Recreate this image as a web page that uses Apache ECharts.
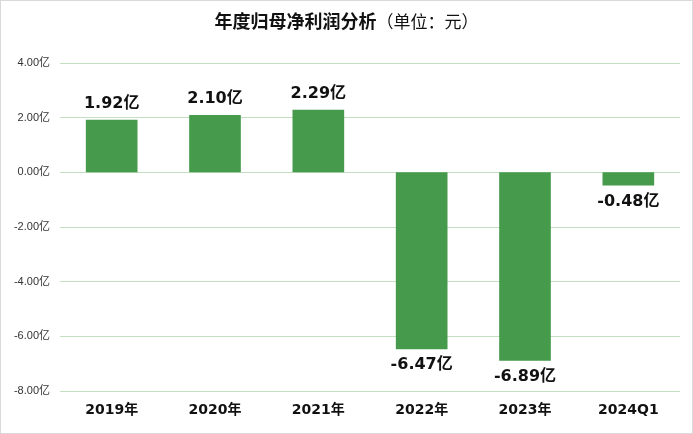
<!DOCTYPE html>
<html>
<head>
<meta charset="utf-8">
<script src="https://cdn.jsdelivr.net/npm/echarts@6/dist/echarts.min.js"></script>
<style>
  html, body { margin: 0; padding: 0; background: #fff; }
  #main { width: 691px; height: 432px; border: 1px solid #d9d9d9; }
</style>
</head>
<body>
<div id="main"></div>
<script>
// 数据
var years = ['2019年', '2020年', '2021年', '2022年', '2023年', '2024Q1'];
var profits = [1.92, 2.10, 2.29, -6.47, -6.89, -0.48]; // 单位：亿元
var yTicks = [-8, -6, -4, -2, 0, 2, 4];

var myChart = echarts.init(document.getElementById('main'));
var fontCn = '"Liberation Sans", "Noto Sans CJK SC", sans-serif';
var fontBold = '"DejaVu Sans", "Noto Sans CJK SC", sans-serif';

option = {
	textStyle: { fontFamily: fontCn },
	title: {
		text: '{b|年度归母净利润分析}{n|（单位：元）}',
		left: 'center',
		top: 8,
		textStyle: {
			rich: {
				b: { fontSize: 18, fontWeight: 'bold', color: '#111', fontFamily: fontCn },
				n: { fontSize: 17, fontWeight: 'normal', color: '#111', fontFamily: fontCn }
			}
		}
	},
	grid: { left: 59, right: 12, top: 62, bottom: 42 },
	xAxis: {
		type: 'category',
		data: years,
		axisLine: { show: false, onZero: false },
		axisTick: { show: false },
		axisLabel: { color: '#111', fontSize: 14, fontWeight: 'bold', fontFamily: fontBold, margin: 12 }
	},
	yAxis: {
		type: 'value',
		min: yTicks[0],
		max: yTicks[yTicks.length - 1],
		interval: 2,
		axisLine: { show: false },
		axisTick: { show: false },
		axisLabel: {
			color: '#333', fontSize: 11, margin: 10,
			formatter: function (v) { return v.toFixed(2) + '亿'; }
		},
		splitLine: { lineStyle: { color: '#c3dec1', width: 1 } }
	},
	series: [{
		type: 'bar',
		barWidth: '50%',
		itemStyle: { color: '#469a4b' },
		data: profits.map(function (v) {
			return {
				value: v,
				label: { position: v >= 0 ? 'top' : 'bottom' }
			};
		}),
		label: {
			show: true,
			distance: 8,
			color: '#111',
			fontSize: 16,
			fontWeight: 'bold',
			fontFamily: fontBold,
			formatter: function (p) { return p.value.toFixed(2) + '亿'; }
		}
	}]
};
myChart.setOption(option);
window.onresize = myChart.resize;
</script>
</body>
</html>
